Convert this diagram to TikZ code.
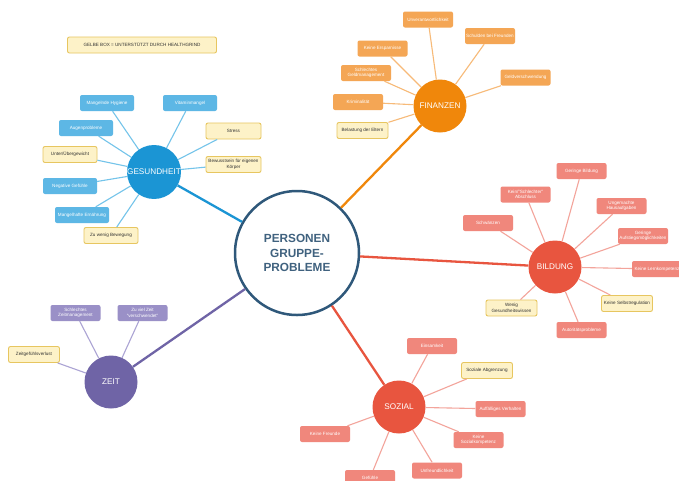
\documentclass[tikz,border=0pt]{standalone}
\usepackage{fontspec}
\setmainfont{Liberation Sans}
\definecolor{centerC}{HTML}{2F587A}
\definecolor{centerT}{HTML}{40627F}
\definecolor{gesC}{HTML}{1B95D4}
\definecolor{gesL}{HTML}{5DB7E5}
\definecolor{gesLine}{HTML}{74C4EA}
\definecolor{finC}{HTML}{F0870B}
\definecolor{finL}{HTML}{F4A655}
\definecolor{finLine}{HTML}{F7BA78}
\definecolor{bilC}{HTML}{E8553F}
\definecolor{bilL}{HTML}{F0877C}
\definecolor{bilLine}{HTML}{F3A49B}
\definecolor{zeiC}{HTML}{6F64A6}
\definecolor{zeiL}{HTML}{9A90C7}
\definecolor{zeiLine}{HTML}{ACA4D4}
\definecolor{yFill}{HTML}{FDF2C8}
\definecolor{yDraw}{HTML}{E7C660}
\definecolor{yText}{HTML}{333333}
\begin{document}
\begin{tikzpicture}[x=1pt,y=-1pt,
  hub/.style={circle, minimum size=53pt, inner sep=0pt, text=white, font=\fontsize{8.2}{9}\selectfont},
  leaf/.style={rounded corners=2pt, minimum width=50pt, minimum height=16pt, inner sep=0.5pt, text=white, font=\fontsize{4.6}{5.4}\selectfont, align=center},
  yel/.style={leaf, fill=yFill, draw=yDraw, line width=0.9pt, text=yText},
  mainline/.style={line width=2.3pt},
  twig/.style={line width=1.1pt}]
\useasboundingbox (0,0) rectangle (679,480);
\fill[white] (0,0) rectangle (679,480);

% legend
\node[yel, minimum width=149pt] (legend) at (142,45) {GELBE BOX = UNTERSTÜTZT DURCH HEALTHGRIND};

% center
\node[circle, draw=centerC, line width=2.5pt, fill=white, minimum size=124pt, inner sep=0pt, text=centerT, align=center, font=\bfseries\fontsize{11.8}{14.5}\selectfont] (c) at (297,253) {PERSONEN\\GRUPPE-\\PROBLEME};

% hubs
\node[hub, fill=gesC] (ges) at (154,172) {GESUNDHEIT};
\node[hub, fill=finC] (fin) at (440,106) {FINANZEN};
\node[hub, fill=bilC] (bil) at (555,267) {BILDUNG};
\node[hub, fill=zeiC] (zei) at (111,382) {ZEIT};
\node[hub, fill=bilC] (soz) at (399,407) {SOZIAL};

\draw[mainline, gesC] (c) -- (ges);
\draw[mainline, finC] (c) -- (fin);
\draw[mainline, bilC] (c) -- (bil);
\draw[mainline, zeiC] (c) -- (zei);
\draw[mainline, bilC] (c) -- (soz);

% Gesundheit
\node[leaf, fill=gesL, minimum width=54pt] (g1) at (107,103) {Mangelnde Hygiene};
\node[leaf, fill=gesL, minimum width=54pt] (g2) at (190,103) {Vitaminmangel};
\node[leaf, fill=gesL, minimum width=54pt] (g3) at (86,128) {Augenprobleme};
\node[yel, minimum width=54pt] (g4) at (70,154.5) {Unter/Übergewicht};
\node[leaf, fill=gesL, minimum width=54pt] (g5) at (70,186) {Negative Gefühle};
\node[leaf, fill=gesL, minimum width=54pt] (g6) at (82,215) {Mangelhafte Ernährung};
\node[yel, minimum width=54pt] (g7) at (111,235.5) {Zu wenig Bewegung};
\node[yel, minimum width=55pt] (g8) at (233.5,131) {Stress};
\node[yel, minimum width=55pt] (g9) at (233.5,164.5) {Bewusstsein für eigenen\\Körper};
\foreach \n in {g1,g2,g3,g4,g5,g6,g7,g8,g9} \draw[twig, gesLine] (ges) -- (\n);

% Finanzen
\node[leaf, fill=finL] (f1) at (428,19.5) {Unverantwortlichkeit};
\node[leaf, fill=finL] (f2) at (382.5,48.5) {Keine Ersparnisse};
\node[leaf, fill=finL] (f3) at (366,73) {Schlechtes\\Geldmanagement};
\node[leaf, fill=finL] (f4) at (358,102) {Kriminalität};
\node[yel, minimum width=51pt] (f5) at (362.5,130.5) {Belastung der Eltern};
\node[leaf, fill=finL] (f6) at (490,36) {Schulden bei Freunden};
\node[leaf, fill=finL] (f7) at (525.5,77.5) {Geldverschwendung};
\foreach \n in {f1,f2,f3,f4,f5,f6,f7} \draw[twig, finLine] (fin) -- (\n);

% Bildung
\node[leaf, fill=bilL] (b1) at (581.5,171) {Geringe Bildung};
\node[leaf, fill=bilL] (b2) at (525.5,194.5) {Kein/"Schlechter"\\Abschluss};
\node[leaf, fill=bilL] (b3) at (621.5,206) {Ungemachte\\Hausaufgaben};
\node[leaf, fill=bilL] (b4) at (488,223) {Schwänzen};
\node[leaf, fill=bilL] (b5) at (643,236) {Geringe\\Aufstiegsmöglichkeiten};
\node[leaf, fill=bilL] (b6) at (657,269) {Keine Lernkompetenz};
\node[yel, minimum width=51pt] (b7) at (627,303.5) {Keine Selbstregulation};
\node[leaf, fill=bilL] (b8) at (581.5,330) {Autoritätsprobleme};
\node[yel, minimum width=51pt] (b9) at (511.5,308) {Wenig\\Gesundheitswissen};
\foreach \n in {b1,b2,b3,b4,b5,b6,b7,b8,b9} \draw[twig, bilLine] (bil) -- (\n);

% Zeit
\node[leaf, fill=zeiL] (z1) at (75.5,313) {Schlechtes\\Zeitmanagement};
\node[leaf, fill=zeiL] (z2) at (142.5,313) {Zu viel Zeit\\"verschwendet"};
\node[yel, minimum width=51pt] (z3) at (34,354.5) {Zeitgefühlsverlust};
\foreach \n in {z1,z2,z3} \draw[twig, zeiLine] (zei) -- (\n);

% Sozial
\node[leaf, fill=bilL] (s1) at (432,346) {Einsamkeit};
\node[yel, minimum width=51pt] (s2) at (487,370.5) {Soziale Abgrenzung};
\node[leaf, fill=bilL] (s3) at (500.5,409) {Auffälliges Verhalten};
\node[leaf, fill=bilL] (s4) at (478.5,440) {Keine\\Sozialkompetenz};
\node[leaf, fill=bilL] (s5) at (437,470.5) {Unfreundlichkeit};
\node[leaf, fill=bilL] (s6) at (325,434) {Keine Freunde};
\node[leaf, fill=bilL] (s7) at (370,478) {Gefühle};
\foreach \n in {s1,s2,s3,s4,s5,s6,s7} \draw[twig, bilLine] (soz) -- (\n);
\end{tikzpicture}
\end{document}
